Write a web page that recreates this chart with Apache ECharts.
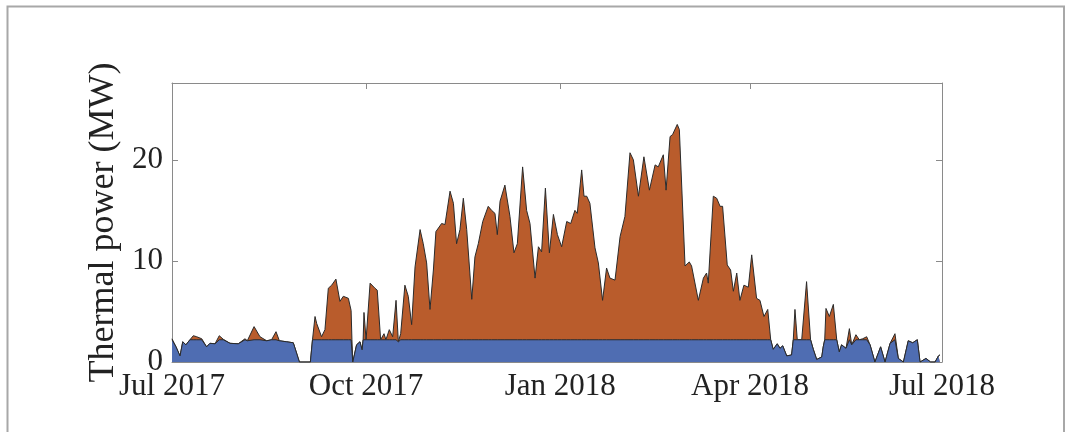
<!DOCTYPE html>
<html>
<head>
<meta charset="utf-8">
<script src="https://cdn.jsdelivr.net/npm/echarts@6/dist/echarts.min.js"></script>
<style>
  html, body { margin: 0; padding: 0; background: #fff; }
  #main { width: 1066px; height: 432px; }
</style>
</head>
<body>
<div id="main"></div>
<script>
// days since 1 Jul 2017
var days = [
  0, 1.9, 3.8, 5.1, 6.6, 8.5, 10.1, 11.7, 14.1, 16.4, 18.0, 20.4, 22.4, 24.3, 27.5, 31.4, 34.6, 35.7, 38.9, 41.7,
  44.9, 47.2, 49.3, 50.9, 54.4, 57.5, 60.4, 65.6, 66.6, 67.8, 68.6, 70.9, 72.5, 74.1, 75.7, 77.7, 79.6, 81.2, 83.6, 84.9,
  85.3, 85.7, 87.5, 89.1, 90.1, 90.6, 91.0, 92.0, 93.9, 96.2, 97.3, 98.9, 100.5, 101.4, 103.0, 104.6, 106.2, 107.3, 108.4, 110.4,
  112.0, 113.6, 115.2, 116.0, 117.6, 119.1, 120.7, 122.3, 123.9, 125.1, 127.8, 129.4, 131.8, 133.4, 134.9, 136.5, 138.1, 139.7, 142.1, 143.6,
  145.2, 147.3, 149.9, 151.5, 153.1, 154.2, 155.5, 157.8, 160.2, 162.1, 163.7, 166.2, 168.1, 169.7, 172.1, 173.7, 175.2, 177.0, 178.9, 180.8,
  182.7, 184.7, 187.1, 189.0, 191.0, 192.1, 194.2, 195.3, 196.6, 198.1, 200.5, 202.1, 204.1, 206.0, 207.6, 210.0, 212.4, 214.7, 217.1, 218.7,
  221.1, 223.7, 226.3, 229.0, 230.5, 232.9, 234.2, 236.1, 237.3, 239.5, 240.5, 243.2, 245.2, 246.3, 249.5, 251.9, 253.4, 254.2, 256.6, 258.2,
  259.8, 261.0, 263.2, 264.8, 266.1, 267.7, 269.2, 271.1, 273.2, 274.8, 277.1, 278.7, 280.6, 282.4, 283.8, 285.0, 286.9, 288.2, 289.5, 291.4,
  293.7, 294.5, 295.3, 296.4, 298.5, 300.8, 302.7, 304.0, 305.6, 308.0, 308.7, 309.4, 310.0, 311.6, 313.5, 315.1, 316.3, 317.4, 319.5, 321.1,
  322.2, 324.2, 325.8, 327.4, 329.3, 330.9, 333.2, 335.9, 338.0, 340.4, 342.7, 344.3, 346.7, 349.0, 351.1, 353.3, 354.6, 357.4, 359.6, 361.7,
  363.3, 364.0
];

// total thermal power (top of orange), MW
var total = [
  2.3, 1.5, 0.6, 2.0, 1.7, 2.2, 2.6, 2.5, 2.3, 1.5, 1.85, 1.8, 2.6, 2.25, 1.85, 1.8, 2.3, 2.1, 3.5, 2.5,
  2.1, 2.2, 3.0, 2.1, 2.0, 1.9, 0, 0, 2.2, 4.5, 3.8, 2.5, 3.2, 7.3, 7.6, 8.2, 6.0, 6.5, 6.3, 5.1,
  2.2, 0, 1.7, 2.0, 1.2, 2.2, 4.9, 2.2, 7.8, 7.3, 7.1, 2.2, 2.8, 2.2, 3.2, 2.5, 6.1, 2.0, 2.8, 7.6,
  6.5, 3.7, 9.4, 9.3, 13.1, 11.7, 9.8, 5.2, 9.1, 12.9, 13.7, 13.6, 16.9, 15.7, 11.7, 13.1, 16.2, 13.1, 6.2, 10.4,
  11.7, 13.9, 15.4, 15.0, 14.7, 12.6, 15.9, 17.5, 14.4, 10.8, 11.7, 19.3, 15.0, 13.7, 8.3, 11.4, 10.9, 17.2, 10.8, 14.6,
  12.6, 11.4, 13.9, 13.7, 15.0, 14.7, 19.0, 16.4, 16.4, 15.7, 11.3, 9.8, 6.1, 9.3, 8.3, 8.1, 12.4, 14.4, 20.7, 20.0,
  16.4, 20.3, 17.0, 19.5, 19.3, 20.5, 17.0, 22.3, 22.5, 23.5, 23.0, 9.5, 9.9, 9.5, 6.1, 8.3, 8.8, 7.8, 16.4, 16.2,
  15.4, 15.4, 9.6, 9.1, 7.0, 8.8, 6.1, 7.6, 7.4, 10.6, 6.3, 6.1, 4.5, 5.2, 2.2, 1.25, 1.8, 1.35, 1.6, 0.6,
  0.7, 2.2, 5.2, 2.2, 2.2, 7.95, 2.2, 1.25, 0.25, 0.5, 1.5, 2.2, 5.3, 4.5, 5.7, 2.2, 1.0, 1.7, 1.35, 3.3,
  1.7, 2.7, 2.2, 2.3, 2.5, 1.7, 0, 1.5, 0, 1.85, 2.8, 0.35, 0, 2.1, 1.9, 2.2, 0, 0.35, 0, 0,
  0.6, 0.7
];

// base part (blue), MW
var base = [
  2.2, 1.5, 0.6, 2.0, 1.7, 2.2, 2.2, 2.2, 2.2, 1.5, 1.85, 1.8, 2.2, 2.2, 1.85, 1.8, 2.2, 2.1, 2.2, 2.2,
  2.1, 2.2, 2.2, 2.1, 2.0, 1.9, 0, 0, 2.2, 2.2, 2.2, 2.2, 2.2, 2.2, 2.2, 2.2, 2.2, 2.2, 2.2, 2.2,
  2.2, 0, 1.7, 2.0, 1.2, 2.2, 2.2, 2.2, 2.2, 2.2, 2.2, 2.2, 2.2, 2.2, 2.2, 2.2, 2.2, 2.0, 2.2, 2.2,
  2.2, 2.2, 2.2, 2.2, 2.2, 2.2, 2.2, 2.2, 2.2, 2.2, 2.2, 2.2, 2.2, 2.2, 2.2, 2.2, 2.2, 2.2, 2.2, 2.2,
  2.2, 2.2, 2.2, 2.2, 2.2, 2.2, 2.2, 2.2, 2.2, 2.2, 2.2, 2.2, 2.2, 2.2, 2.2, 2.2, 2.2, 2.2, 2.2, 2.2,
  2.2, 2.2, 2.2, 2.2, 2.2, 2.2, 2.2, 2.2, 2.2, 2.2, 2.2, 2.2, 2.2, 2.2, 2.2, 2.2, 2.2, 2.2, 2.2, 2.2,
  2.2, 2.2, 2.2, 2.2, 2.2, 2.2, 2.2, 2.2, 2.2, 2.2, 2.2, 2.2, 2.2, 2.2, 2.2, 2.2, 2.2, 2.2, 2.2, 2.2,
  2.2, 2.2, 2.2, 2.2, 2.2, 2.2, 2.2, 2.2, 2.2, 2.2, 2.2, 2.2, 2.2, 2.2, 2.2, 1.25, 1.8, 1.35, 1.6, 0.6,
  0.7, 2.2, 2.2, 2.2, 2.2, 2.2, 2.2, 1.25, 0.25, 0.5, 1.5, 2.2, 2.2, 2.2, 2.2, 2.2, 1.0, 1.7, 1.35, 2.2,
  1.7, 2.2, 2.2, 2.2, 2.2, 1.7, 0, 1.5, 0, 1.85, 2.2, 0.35, 0, 2.1, 1.9, 2.2, 0, 0.35, 0, 0,
  0.6, 0.7
];

var monthTicks = [0, 92, 184, 274, 365];
var monthLabels = ['Jul 2017', 'Oct 2017', 'Jan 2018', 'Apr 2018', 'Jul 2018'];
var yTicks = [0, 10, 20];

var serif = 'Liberation Serif';
var axisGray = '#8a8a8a';

var totalData = [];
var baseData = [];
for (var i = 0; i < days.length; i++) {
  totalData.push([days[i], total[i]]);
  baseData.push([days[i], base[i]]);
}

var chart = echarts.init(document.getElementById('main'));
chart.setOption({
  animation: false,
  graphic: [{
    type: 'rect',
    shape: { x: 7.5, y: 6.5, width: 1056.5, height: 500 },
    style: { fill: 'none', stroke: '#a8a8a8', lineWidth: 2 },
    silent: true
  }],
  grid: { left: 172, right: 124, top: 83, bottom: 70 },
  xAxis: [{
    type: 'value',
    min: 0,
    max: 365,
    splitLine: { show: false },
    axisLine: { show: true, onZero: false, lineStyle: { color: axisGray, width: 1 } },
    axisTick: { show: true, inside: true, length: 6, customValues: monthTicks, lineStyle: { color: axisGray } },
    axisLabel: {
      customValues: monthTicks,
      margin: 9,
      color: '#222',
      fontFamily: serif,
      fontSize: 31,
      formatter: function (v) { return monthLabels[monthTicks.indexOf(v)]; }
    }
  }, {
    type: 'value',
    position: 'top',
    min: 0,
    max: 365,
    splitLine: { show: false },
    axisLine: { show: true, onZero: false, lineStyle: { color: axisGray, width: 1 } },
    axisTick: { show: true, inside: true, length: 6, customValues: monthTicks.slice(1, 4), lineStyle: { color: axisGray } },
    axisLabel: { show: false }
  }],
  yAxis: [{
    type: 'value',
    min: 0,
    max: 27.6,
    name: 'Thermal power (MW)',
    nameLocation: 'middle',
    nameGap: 41,
    nameTextStyle: { color: '#222', fontFamily: serif, fontSize: 36 },
    splitLine: { show: false },
    axisLine: { show: true, onZero: false, lineStyle: { color: axisGray, width: 1 } },
    axisTick: { show: true, inside: true, length: 6, customValues: yTicks, lineStyle: { color: axisGray } },
    axisLabel: { customValues: yTicks, margin: 9, color: '#222', fontFamily: serif, fontSize: 31 }
  }, {
    type: 'value',
    position: 'right',
    min: 0,
    max: 27.6,
    splitLine: { show: false },
    axisLine: { show: true, onZero: false, lineStyle: { color: axisGray, width: 1 } },
    axisTick: { show: true, inside: true, length: 6, customValues: [10, 20], lineStyle: { color: axisGray } },
    axisLabel: { show: false }
  }],
  series: [{
    name: 'total',
    type: 'line',
    data: totalData,
    showSymbol: false,
    z: 2,
    lineStyle: { color: '#2b2b2b', width: 1 },
    areaStyle: { color: '#b95c2c', opacity: 1 }
  }, {
    name: 'base',
    type: 'line',
    data: baseData,
    showSymbol: false,
    z: 3,
    lineStyle: { color: '#2b2b2b', width: 1 },
    areaStyle: { color: '#4f6db2', opacity: 1 }
  }]
});
</script>
</body>
</html>
